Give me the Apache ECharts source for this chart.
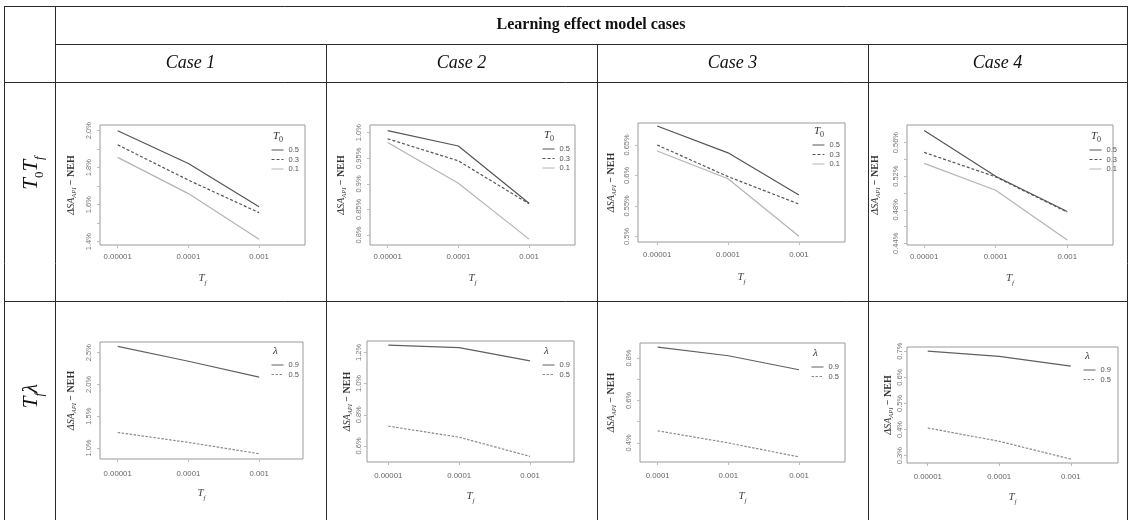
<!DOCTYPE html>
<html>
<head>
<meta charset="utf-8">
<script src="https://cdn.jsdelivr.net/npm/echarts@6/dist/echarts.min.js"></script>
<style>
html,body{margin:0;padding:0;background:#fff;}
#c{width:1131px;height:520px;}
</style>
</head>
<body>
<div id="c"></div>
<script>
// ---------- data ----------
const caseNames = ['Case 1', 'Case 2', 'Case 3', 'Case 4'];
const tfTicks = ['0.00001', '0.0001', '0.001'];
const tfTicksCase3Lambda = ['0.0001', '0.001', '0.001'];
const t0Levels = ['0.5', '0.3', '0.1'];
const lambdaLevels = ['0.9', '0.5'];

// Row 1: T0 Tf  (values in %)
const case1T0_05 = [2.000, 1.823, 1.589];
const case1T0_03 = [1.924, 1.733, 1.557];
const case1T0_01 = [1.856, 1.660, 1.413];
const case2T0_05 = [1.004, 0.974, 0.862];
const case2T0_03 = [0.988, 0.945, 0.861];
const case2T0_01 = [0.981, 0.901, 0.792];
const case3T0_05 = [0.681, 0.637, 0.568];
const case3T0_03 = [0.650, 0.598, 0.553];
const case3T0_01 = [0.640, 0.5945, 0.500];
const case4T0_05 = [0.5744, 0.520, 0.478];
const case4T0_03 = [0.5484, 0.5192, 0.4772];
const case4T0_01 = [0.5352, 0.5032, 0.444];

// Row 2: Tf lambda
const case1Lam_09 = [2.599, 2.365, 2.115];
const case1Lam_05 = [1.245, 1.089, 0.911];
const case2Lam_09 = [1.247, 1.230, 1.146];
const case2Lam_05 = [0.727, 0.656, 0.533];
const case3Lam_09 = [0.852, 0.811, 0.745];
const case3Lam_05 = [0.457, 0.400, 0.334];
const case4Lam_09 = [0.700, 0.680, 0.643];
const case4Lam_05 = [0.406, 0.355, 0.287];

// y tick values and labels ('' = unlabelled tick)
const yTicksC1R1 = [1.4, 1.5, 1.6, 1.7, 1.8, 1.9, 2.0];
const yLabelsC1R1 = ['1.4%', '', '1.6%', '', '1.8%', '', '2.0%'];
const yTicksC2R1 = [0.8, 0.85, 0.9, 0.95, 1.0];
const yLabelsC2R1 = ['0.8%', '0.85%', '0.9%', '0.95%', '1.0%'];
const yTicksC3R1 = [0.5, 0.55, 0.6, 0.65];
const yLabelsC3R1 = ['0.5%', '0.55%', '0.6%', '0.65%'];
const yTicksC4R1 = [0.44, 0.46, 0.48, 0.5, 0.52, 0.54, 0.56];
const yLabelsC4R1 = ['0.44%', '', '0.48%', '', '0.52%', '', '0.56%'];
const yTicksC1R2 = [1.0, 1.5, 2.0, 2.5];
const yLabelsC1R2 = ['1.0%', '1.5%', '2.0%', '2.5%'];
const yTicksC2R2 = [0.6, 0.8, 1.0, 1.2];
const yLabelsC2R2 = ['0.6%', '0.8%', '1.0%', '1.2%'];
const yTicksC3R2 = [0.4, 0.5, 0.6, 0.7, 0.8];
const yLabelsC3R2 = ['0.4%', '', '0.6%', '', '0.8%'];
const yTicksC4R2 = [0.3, 0.4, 0.5, 0.6, 0.7];
const yLabelsC4R2 = ['0.3%', '0.4%', '0.5%', '0.6%', '0.7%'];

// ---------- layout / style ----------
const SERIF = 'Liberation Serif';
const SANS = 'Liberation Sans';
const panels = [
  {grid:[100,125,205,120], y:[1.382,2.031], x:[-0.25,2.65], ticks:yTicksC1R1, labels:yLabelsC1R1, xt:tfTicks,
   series:[case1T0_05,case1T0_03,case1T0_01], levels:t0Levels, title:'T0', leg:[271,146], nameGap:24, labMargin:7, xNameGap:25, xLabMargin:8},
  {grid:[370,125,205,120], y:[0.7805,1.015], x:[-0.25,2.65], ticks:yTicksC2R1, labels:yLabelsC2R1, xt:tfTicks,
   series:[case2T0_05,case2T0_03,case2T0_01], levels:t0Levels, title:'T0', leg:[542,145], nameGap:24, labMargin:7, xNameGap:25, xLabMargin:8},
  {grid:[638,123,207,119], y:[0.4907,0.686], x:[-0.27,2.65], ticks:yTicksC3R1, labels:yLabelsC3R1, xt:tfTicks,
   series:[case3T0_05,case3T0_03,case3T0_01], levels:t0Levels, title:'T0', leg:[812,141], nameGap:22, labMargin:7, xNameGap:27, xLabMargin:9},
  {grid:[907,125,206,120], y:[0.438,0.581], x:[-0.24,2.64], ticks:yTicksC4R1, labels:yLabelsC4R1, xt:tfTicks,
   series:[case4T0_05,case4T0_03,case4T0_01], levels:t0Levels, title:'T0', leg:[1089,146], nameGap:27, labMargin:7, xNameGap:25, xLabMargin:8},
  {grid:[100,342,203,117], y:[0.828,2.667], x:[-0.25,2.62], ticks:yTicksC1R2, labels:yLabelsC1R2, xt:tfTicks,
   series:[case1Lam_09,case1Lam_05], levels:lambdaLevels, title:'lam', leg:[271,361], nameGap:24, labMargin:7, xNameGap:26, xLabMargin:11},
  {grid:[367,341,207,121], y:[0.497,1.273], x:[-0.3,2.62], ticks:yTicksC2R2, labels:yLabelsC2R2, xt:tfTicks,
   series:[case2Lam_09,case2Lam_05], levels:lambdaLevels, title:'lam', leg:[542,361], nameGap:14, labMargin:4, xNameGap:26, xLabMargin:10},
  {grid:[640,343,205,119], y:[0.31,0.871], x:[-0.25,2.65], ticks:yTicksC3R2, labels:yLabelsC3R2, xt:tfTicksCase3Lambda,
   series:[case3Lam_09,case3Lam_05], levels:lambdaLevels, title:'lam', leg:[811,363], nameGap:24, labMargin:7, xNameGap:26, xLabMargin:10},
  {grid:[907,347,211,116], y:[0.272,0.716], x:[-0.29,2.66], ticks:yTicksC4R2, labels:yLabelsC4R2, xt:tfTicks,
   series:[case4Lam_09,case4Lam_05], levels:lambdaLevels, title:'lam', leg:[1083,366], nameGap:13, labMargin:3, xNameGap:26, xLabMargin:10}
];
const styleT0 = [
  {color:'#555', type:'solid'},
  {color:'#555', type:[3,2]},
  {color:'#b4b4b4', type:'solid'}
];
const styleLam = [
  {color:'#606060', type:'solid'},
  {color:'#8a8a8a', type:[2.5,1.5]}
];

const grids = [], xAxes = [], yAxes = [], series = [], legends = [], graphics = [];

panels.forEach((p, i) => {
  grids.push({left:p.grid[0], top:p.grid[1], width:p.grid[2], height:p.grid[3], show:true,
    borderColor:'#9a9a9a', borderWidth:1, backgroundColor:'transparent', containLabel:false});
  const xt = p.xt;
  xAxes.push({type:'value', gridIndex:i, min:p.x[0], max:p.x[1],
    name:'{i|T}{s|f}', nameLocation:'middle', nameGap:p.xNameGap,
    nameTextStyle:{rich:{
      i:{fontFamily:SERIF, fontStyle:'italic', fontSize:11, color:'#444', lineHeight:14, verticalAlign:'bottom'},
      s:{fontFamily:SERIF, fontStyle:'italic', fontSize:7, color:'#444', lineHeight:14, verticalAlign:'bottom', padding:[0,0,-3,0]}}},
    axisLine:{show:false, onZero:false}, splitLine:{show:false},
    axisTick:{show:true, customValues:[0,1,2], length:3, lineStyle:{color:'#bbb'}},
    axisLabel:{show:true, customValues:[0,1,2], margin:p.xLabMargin, fontFamily:SANS, fontSize:7.8, color:'#666',
      formatter:(v) => xt[Math.round(v)]}
  });
  const tv = p.ticks, tl = p.labels;
  const labVals = tv.filter((v, k) => tl[k] !== '');
  yAxes.push({type:'value', gridIndex:i, min:p.y[0], max:p.y[1],
    name:'{i|ΔSA}{s|API}{n| − NEH}', nameLocation:'middle', nameGap:p.nameGap, nameRotate:90,
    nameTextStyle:{rich:{
      i:{fontFamily:SERIF, fontStyle:'italic', fontSize:10, color:'#333', lineHeight:13, verticalAlign:'bottom'},
      s:{fontFamily:SERIF, fontStyle:'italic', fontSize:6.5, color:'#333', lineHeight:13, verticalAlign:'bottom', padding:[0,0,-2,0]},
      n:{fontFamily:SERIF, fontSize:10, fontWeight:'bold', color:'#333', lineHeight:13, verticalAlign:'bottom'}}},
    axisLine:{show:false, onZero:false}, splitLine:{show:false},
    axisTick:{show:true, customValues:tv, length:3, lineStyle:{color:'#bbb'}},
    axisLabel:{show:true, customValues:labVals, rotate:90, margin:p.labMargin, fontFamily:SANS, fontSize:7.5, color:'#777',
      formatter:(v) => {
        let best = 0, bd = Infinity;
        tv.forEach((t, k) => { const d = Math.abs(t - v); if (d < bd) { bd = d; best = k; } });
        return tl[best];
      }}
  });
  const sty = p.title === 'T0' ? styleT0 : styleLam;
  const names = [];
  p.series.forEach((arr, k) => {
    const nm = 'p' + i + '|' + p.levels[k];
    names.push(nm);
    series.push({type:'line', name:nm, xAxisIndex:i, yAxisIndex:i, symbol:'none', silent:true,
      data:arr.map((v, j) => [j, v]),
      lineStyle:{color:sty[k].color, type:sty[k].type, width:1.2},
      itemStyle:{color:sty[k].color, opacity:0}});
  });
  legends.push({data:names, left:p.leg[0], top:p.leg[1], orient:'vertical', padding:0,
    itemWidth:12, itemHeight:6, itemGap:1.5, selectedMode:false,
    itemStyle:{opacity:0, borderWidth:0},
    lineStyle:{width:1},
    formatter:(n) => n.split('|')[1],
    textStyle:{fontFamily:SANS, fontSize:7.5, color:'#555'}});
  // legend title
  if (p.title === 'T0') {
    graphics.push({type:'text', left:p.leg[0] + 2, top:p.leg[1] - 15,
      style:{rich:{i:{fontFamily:SERIF, fontStyle:'italic', fontSize:11, fill:'#333', lineHeight:13, verticalAlign:'bottom'},
                   s:{fontFamily:SERIF, fontSize:8, fill:'#333', lineHeight:13, verticalAlign:'bottom', padding:[0,0,-2,0]}},
             text:'{i|T}{s|0}'}});
  } else {
    graphics.push({type:'text', left:p.leg[0] + 2, top:p.leg[1] - 15,
      style:{text:'λ', font:'italic 11px "' + SERIF + '"', fill:'#333'}});
  }
});

// ---------- table decoration ----------
const L = 4, R = 1127, T = 6, B = 530;
const lineStyle = {stroke:'#2a2a2a', lineWidth:1};
function hline(y, x1, x2){ graphics.push({type:'line', silent:true, shape:{x1:x1, y1:y, x2:x2, y2:y}, style:lineStyle}); }
function vline(x, y1, y2){ graphics.push({type:'line', silent:true, shape:{x1:x, y1:y1, x2:x, y2:y2}, style:lineStyle}); }
hline(T + 0.5, L, R);
hline(44.5, 55, R);
hline(82.5, L, R);
hline(301.5, L, R);
vline(L + 0.5, T, B);
vline(R + 0.5, T, B);
vline(55.5, T, B);
vline(326.5, 44, B);
vline(597.5, 44, B);
vline(868.5, 44, B);

graphics.push({type:'text', x:(55 + R) / 2, y:25, style:{text:'Learning effect model cases', font:'bold 16px "' + SERIF + '"',
  fill:'#111', textAlign:'center', textVerticalAlign:'middle'}});
const colEdges = [55, 326, 597, 868, R];
caseNames.forEach((c, k) => {
  graphics.push({type:'text', x:(colEdges[k] + colEdges[k + 1]) / 2, y:63,
    style:{text:c, font:'italic 18px "' + SERIF + '"', fill:'#111', textAlign:'center', textVerticalAlign:'middle'}});
});
const rowRich = {
  i:{fontFamily:SERIF, fontStyle:'italic', fontSize:21, fill:'#111', lineHeight:24, verticalAlign:'bottom'},
  s:{fontFamily:SERIF, fontSize:13, fill:'#111', lineHeight:24, verticalAlign:'bottom', padding:[0,0,-4,0]},
  si:{fontFamily:SERIF, fontStyle:'italic', fontSize:13, fill:'#111', lineHeight:24, verticalAlign:'bottom', padding:[0,0,-4,0]}
};
graphics.push({type:'text', x:30, y:173, rotation:Math.PI / 2,
  style:{rich:rowRich, text:'{i|T}{s|0}{i|T}{si|f}', textAlign:'center', textVerticalAlign:'middle'}});
graphics.push({type:'text', x:30, y:396, rotation:Math.PI / 2,
  style:{rich:rowRich, text:'{i|T}{si|f}{i|λ}', textAlign:'center', textVerticalAlign:'middle'}});

const chart = echarts.init(document.getElementById('c'), null, {renderer:'canvas'});
chart.setOption({
  animation:false,
  backgroundColor:'#fff',
  grid:grids, xAxis:xAxes, yAxis:yAxes, series:series, legend:legends, graphic:graphics
});
</script>
</body>
</html>
